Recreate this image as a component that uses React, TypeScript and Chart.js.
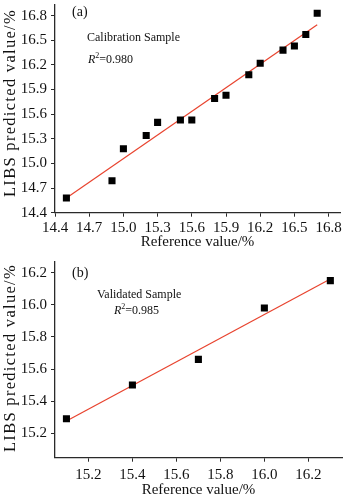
import React, { useEffect, useRef } from "react";
import { Chart, registerables } from "chart.js";
Chart.register(...registerables);

// ---- Data (a) Calibration ----
const calRef = [14.5, 14.9, 15.0, 15.2, 15.3, 15.5, 15.6, 15.8, 15.9, 16.1, 16.2, 16.4, 16.5, 16.6, 16.7];
const calPred = [14.58, 14.79, 15.18, 15.34, 15.5, 15.53, 15.53, 15.79, 15.83, 16.08, 16.22, 16.38, 16.43, 16.57, 16.83];
const calFitX = [14.5, 16.7];
const calFitY = [14.58, 16.69];
const calTicks = [14.4, 14.7, 15.0, 15.3, 15.6, 15.9, 16.2, 16.5, 16.8];

// ---- Data (b) Validation ----
const valRef = [15.1, 15.4, 15.7, 16.0, 16.3];
const valPred = [15.29, 15.5, 15.66, 15.98, 16.15];
const valFitX = [15.1, 16.3];
const valFitY = [15.277, 16.16];
const valTicks = [15.2, 15.4, 15.6, 15.8, 16.0, 16.2];

const FAMILY = "'Liberation Serif', 'Times New Roman', serif";
const AXIS = "#2a2a2a";
const RED = "#e8432e";

type PanelProps = {
  top: number;
  height: number;
  xs: number[];
  ys: number[];
  fx: number[];
  fy: number[];
  xMin: number;
  xMax: number;
  yMin: number;
  yMax: number;
  ticks: number[];
  areaTop: number;
  areaRight: number;
  areaBottom: number;
  xTitlePad: number;
  xTickPad: number;
};

function Panel(p: PanelProps) {
  const ref = useRef<HTMLCanvasElement>(null);
  useEffect(() => {
    if (!ref.current) return;
    const W = 363;
    const font = { family: FAMILY, size: 15 };
    const chart = new Chart(ref.current, {
      type: "scatter",
      data: {
        datasets: [
          {
            data: p.xs.map((x, i) => ({ x, y: p.ys[i] })),
            pointStyle: "rect",
            pointRadius: 5,
            pointBackgroundColor: "#000",
            pointBorderWidth: 0,
            showLine: false,
          },
          {
            data: p.fx.map((x, i) => ({ x, y: p.fy[i] })),
            showLine: true,
            borderColor: RED,
            borderWidth: 1.2,
            pointRadius: 0,
          },
        ],
      },
      options: {
        responsive: false,
        animation: false,
        devicePixelRatio: 1,
        layout: { padding: { left: 0, top: p.areaTop, right: W - p.areaRight, bottom: 0 } },
        plugins: { legend: { display: false }, tooltip: { enabled: false } },
        scales: {
          x: {
            type: "linear",
            min: p.xMin,
            max: p.xMax,
            afterBuildTicks: (s: any) => {
              s.ticks = p.ticks.map((v) => ({ value: v }));
            },
            afterFit: (s: any) => {
              s.height = p.height - p.areaBottom;
              s.paddingLeft = 0;
              s.paddingRight = 0;
            },
            ticks: {
              autoSkip: false,
              maxRotation: 0,
              padding: p.xTickPad,
              color: "#111",
              font,
              callback: (v: any) => Number(v).toFixed(1),
            },
            grid: { drawOnChartArea: false, drawTicks: true, tickLength: 4, tickColor: AXIS, tickWidth: 1 },
            border: { display: true, color: AXIS, width: 1.3 },
            title: {
              display: true,
              text: "Reference value/%",
              color: "#111",
              font,
              padding: { top: 0, bottom: p.xTitlePad },
            },
          },
          y: {
            type: "linear",
            min: p.yMin,
            max: p.yMax,
            afterBuildTicks: (s: any) => {
              s.ticks = p.ticks.map((v) => ({ value: v }));
            },
            afterFit: (s: any) => {
              s.width = 55;
              s.paddingTop = 0;
              s.paddingBottom = 0;
            },
            ticks: {
              autoSkip: false,
              padding: 4,
              color: "#111",
              font,
              callback: (v: any) => Number(v).toFixed(1),
            },
            grid: { drawOnChartArea: false, drawTicks: true, tickLength: 4, tickColor: AXIS, tickWidth: 1 },
            border: { display: true, color: AXIS, width: 1.3 },
            title: { display: false },
          },
        },
      },
    } as any);
    return () => chart.destroy();
  }, []);
  return (
    <canvas
      ref={ref}
      width={363}
      height={p.height}
      style={{ position: "absolute", left: 0, top: p.top, width: 363, height: p.height }}
    />
  );
}

const txt = (left: number, top: number, size: number): React.CSSProperties => ({
  position: "absolute",
  left,
  top,
  fontFamily: FAMILY,
  fontSize: size,
  lineHeight: 1,
  whiteSpace: "nowrap",
  color: "#111",
});

const yTitle = (cy: number): React.CSSProperties => ({
  position: "absolute",
  left: 10,
  top: cy,
  transform: "translate(-50%, -50%) rotate(-90deg)",
  fontFamily: FAMILY,
  fontSize: 16.5,
  lineHeight: 1,
  letterSpacing: 1.3,
  whiteSpace: "nowrap",
  color: "#111",
});

const sup: React.CSSProperties = { fontSize: 8, position: "relative", top: -5 };

export default function App() {
  return (
    <div style={{ position: "absolute", left: 0, top: 0, width: 363, height: 502, background: "#fff", overflow: "hidden" }}>
      <Panel
        top={0}
        height={250}
        xs={calRef}
        ys={calPred}
        fx={calFitX}
        fy={calFitY}
        xMin={14.4}
        xMax={16.9}
        yMin={14.4}
        yMax={16.93}
        ticks={calTicks}
        areaTop={0}
        areaRight={340}
        areaBottom={212.7}
        xTitlePad={-1}
        xTickPad={2}
      />
      <Panel
        top={250}
        height={252}
        xs={valRef}
        ys={valPred}
        fx={valFitX}
        fy={valFitY}
        xMin={15.048}
        xMax={16.353}
        yMin={15.048}
        yMax={16.268}
        ticks={valTicks}
        areaTop={11.7}
        areaRight={342}
        areaBottom={207.7}
        xTitlePad={3}
        xTickPad={4}
      />
      <div style={yTitle(103)}>LIBS predicted value/%</div>
      <div style={yTitle(358)}>LIBS predicted value/%</div>
      <div style={txt(72, 4.8, 14)}>(a)</div>
      <div style={txt(87, 31, 12)}>Calibration Sample</div>
      <div style={txt(88, 52.5, 12)}>
        <i>R</i>
        <span style={sup}>2</span>=0.980
      </div>
      <div style={txt(72, 266.3, 14)}>(b)</div>
      <div style={txt(97, 288, 12)}>Validated Sample</div>
      <div style={txt(114, 303.5, 12)}>
        <i>R</i>
        <span style={sup}>2</span>=0.985
      </div>
    </div>
  );
}
